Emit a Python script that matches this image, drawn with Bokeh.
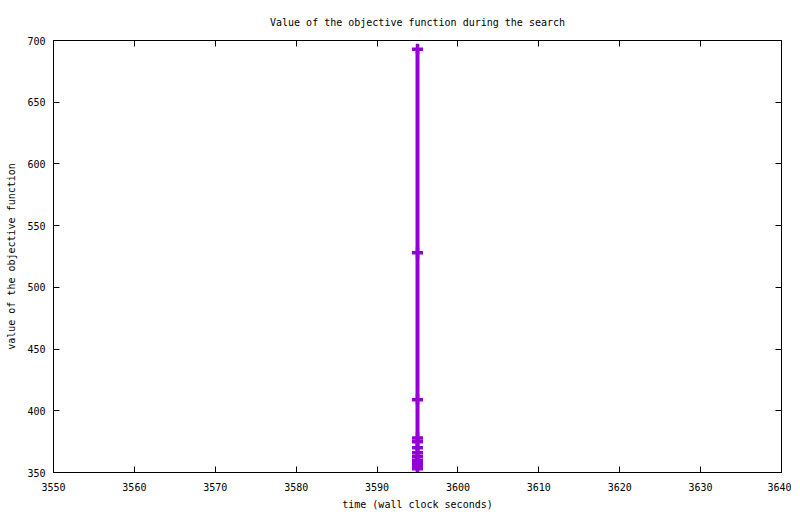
from bokeh.plotting import figure
from bokeh.models import LinearAxis, FixedTicker, Range1d
from bokeh.embed import file_html
from bokeh.resources import INLINE

# data: wall-clock time (s) vs objective value
times = [3595, 3595, 3595, 3595, 3595, 3595, 3595, 3595, 3595, 3595, 3595, 3595]
values = [693, 528, 409, 378, 375, 370, 366, 363, 360, 357, 355, 353]

x_ticks = [3550, 3560, 3570, 3580, 3590, 3600, 3610, 3620, 3630, 3640]
y_ticks = [350, 400, 450, 500, 550, 600, 650, 700]

FONT = "DejaVu Sans Mono"
FS = "10px"
COLOR = "#9400D3"

p = figure(frame_width=728, frame_height=432,
           x_range=Range1d(3550, 3640), y_range=Range1d(350, 700),
           output_backend="svg", toolbar_location=None,
           title="Value of the objective function during the search",
           min_border_left=53, min_border_right=10, min_border_top=40, min_border_bottom=10)

p.title.align = "center"
p.title.text_font = FONT
p.title.text_font_size = FS
p.title.text_font_style = "normal"
p.title.text_color = "black"
p.title.standoff = 26

p.xgrid.visible = False
p.ygrid.visible = False
p.outline_line_color = "black"
p.outline_line_alpha = 1
p.outline_line_width = 1

p.line(times, values, line_color=COLOR, line_width=4)
p.scatter(times, values, marker="cross", size=11, line_color=COLOR, line_width=3.5)

for ax, ticks in ((p.xaxis[0], x_ticks), (p.yaxis[0], y_ticks)):
    ax.ticker = FixedTicker(ticks=ticks)
    ax.major_tick_in = 6
    ax.major_tick_out = 0
    ax.minor_tick_line_color = None
    ax.major_label_text_font = FONT
    ax.major_label_text_font_size = FS
    ax.major_label_text_color = "black"
    ax.axis_label_text_font = FONT
    ax.axis_label_text_font_size = FS
    ax.axis_label_text_font_style = "normal"
    ax.axis_label_text_color = "black"
    ax.axis_line_color = "black"
    ax.major_tick_line_color = "black"

p.xaxis[0].axis_label = "time (wall clock seconds)"
p.yaxis[0].axis_label = "value of the objective function"
p.xaxis[0].major_label_standoff = 10
p.yaxis[0].major_label_standoff = 8
p.xaxis[0].axis_label_standoff = 5
p.yaxis[0].axis_label_standoff = 7

top = LinearAxis(ticker=FixedTicker(ticks=x_ticks))
right = LinearAxis(ticker=FixedTicker(ticks=y_ticks))
for ax in (top, right):
    ax.major_tick_in = 6
    ax.major_tick_out = 0
    ax.minor_tick_line_color = None
    ax.major_label_text_font_size = "0px"
    ax.major_label_text_color = None
    ax.major_label_standoff = 0
    ax.axis_line_color = "black"
    ax.major_tick_line_color = "black"
p.add_layout(top, "above")
p.add_layout(right, "right")

open("out.html", "w").write(file_html(p, INLINE))
